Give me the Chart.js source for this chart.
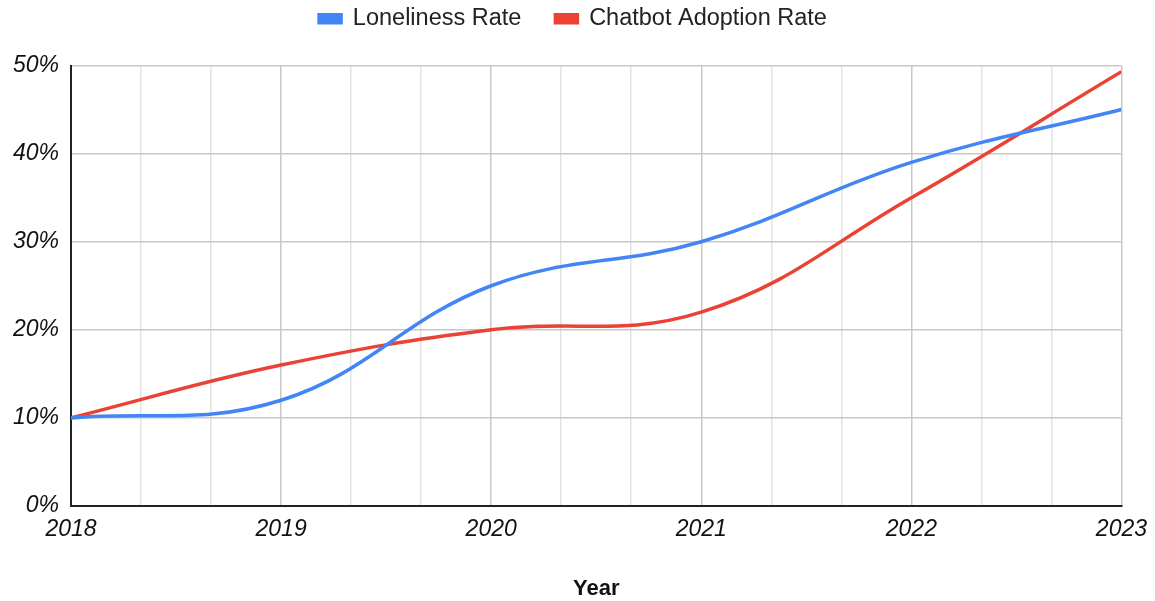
<!DOCTYPE html>
<html>
<head>
<meta charset="utf-8">
<script src="https://cdn.jsdelivr.net/npm/chart.js@4"></script>
<style>
  html, body { margin: 0; padding: 0; background: #ffffff; }
  #wrap { width: 1155px; height: 601px; }
</style>
</head>
<body>
<div id="wrap"><canvas id="chart" width="1155" height="601"></canvas></div>
<script>
const years = [2018, 2019, 2020, 2021, 2022, 2023];
const lonelinessRate = [10, 12, 25, 30, 39, 45];
const chatbotRate = [10, 16, 20, 22, 35, 49.3];
const yTicks = [0, 10, 20, 30, 40, 50];

const font = "'Liberation Sans', Arial, sans-serif";

function toPoints(values) {
    return years.map((y, i) => ({ x: y, y: values[i] }));
}

// extra room under the legend
const legendGap = {
    id: 'legendGap',
    beforeInit(chart) {
        const fit = chart.legend.fit;
        chart.legend.fit = function() {
            fit.call(this);
            this.height += 25;
        };
    }
};

const ctx = document.getElementById('chart').getContext('2d');

new Chart(ctx, {
    type: 'line',
    data: {
        datasets: [
            {
                label: 'Loneliness Rate',
                data: toPoints(lonelinessRate),
                borderColor: '#4285f4',
                backgroundColor: '#4285f4',
                borderWidth: 3.5,
                pointRadius: 0,
                tension: 0.4
            },
            {
                label: 'Chatbot Adoption Rate',
                data: toPoints(chatbotRate),
                borderColor: '#ea4335',
                backgroundColor: '#ea4335',
                borderWidth: 3.5,
                pointRadius: 0,
                tension: 0.4
            }
        ]
    },
    options: {
        responsive: false,
        animation: false,
        layout: { padding: { left: 1, right: 10, top: -27, bottom: -1 } },
        scales: {
            x: {
                type: 'linear',
                min: 2018,
                max: 2023,
                afterBuildTicks: function(axis) {
                    const t = [];
                    for (let i = 0; i <= 15; i++) t.push({ value: 2018 + i / 3 });
                    axis.ticks = t;
                },
                afterFit: function(axis) {
                    axis.paddingRight -= 2;
                },
                ticks: {
                    autoSkip: false,
                    maxRotation: 0,
                    color: '#111',
                    padding: 10,
                    font: { family: font, size: 23, style: 'italic' },
                    callback: function(v, i) {
                        return i % 3 === 0 ? String(Math.round(v)) : '';
                    }
                },
                grid: {
                    color: function(c) { return c.index % 3 === 0 ? '#c8c8c8' : '#e3e3e3'; },
                    lineWidth: 1.5,
                    drawTicks: false
                },
                border: { color: '#222', width: 2 },
                title: {
                    display: true,
                    text: 'Year',
                    color: '#111',
                    padding: { top: 22, bottom: 0 },
                    font: { family: font, size: 22, weight: 'bold' }
                }
            },
            y: {
                min: 0,
                max: 50,
                afterBuildTicks: function(axis) {
                    axis.ticks = yTicks.map(v => ({ value: v }));
                },
                ticks: {
                    color: '#111',
                    padding: 12,
                    font: { family: font, size: 23, style: 'italic' },
                    callback: function(v) { return v + '%'; }
                },
                grid: { color: '#c8c8c8', lineWidth: 1.5, drawTicks: false },
                border: { color: '#222', width: 2 }
            }
        },
        plugins: {
            legend: {
                position: 'top',
                labels: {
                    color: '#222',
                    boxWidth: 22,
                    boxHeight: 8,
                    padding: 34,
                    font: { family: font, size: 23.5 }
                }
            },
            tooltip: { enabled: false }
        }
    },
    plugins: [legendGap]
});
</script>
</body>
</html>
